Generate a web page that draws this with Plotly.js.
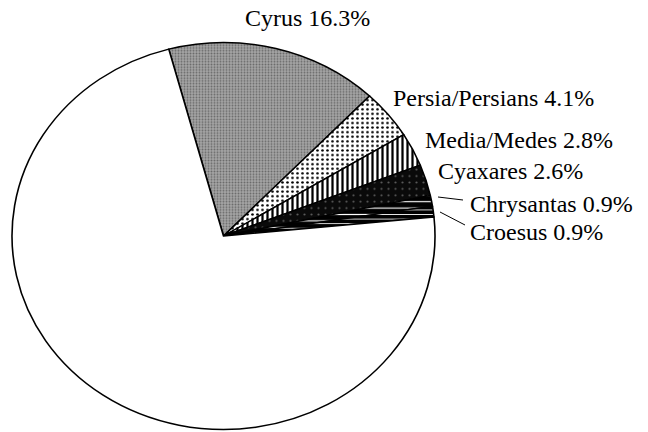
<!DOCTYPE html>
<html>
<head>
<meta charset="utf-8">
<script src="https://cdn.plot.ly/plotly-3.0.1.min.js"></script>
<style>
  html, body { margin: 0; padding: 0; background: #fff; }
  #chart { width: 648px; height: 432px; }
</style>
</head>
<body>
<div id="chart"></div>
<script>
// ---- data ----
const labels = ["Cyrus", "Persia/Persians", "Media/Medes", "Cyaxares", "Chrysantas", "Croesus", "Other"];
const shares = [16.3, 4.1, 2.8, 2.6, 0.9, 0.9, 72.4];
const labelled = [true, true, true, true, true, true, false];

// ---- styles ----
const bgColors = ["#a6a6a6", "#ffffff", "#ffffff", "#0a0a0a", "#000000", "#000000", "#ffffff"];
const fgColors = ["#6a6a6a", "#000000", "#000000", "#5a5a5a", "#ffffff", "#ffffff", "#000000"];
const shapes   = [".", ".", "|", ".", "-", "-", ""];
const sizes    = [3, 5, 5, 7, 7, 5, 8];
const solids   = [0.35, 0.22, 0.45, 0.08, 0.18, 0.18, 0.3];

// label placement (pixels: left edge, vertical centre)
const labelPos = [[244, 18], [392, 98], [424, 140], [437, 171], [469, 204], [469, 232]];
// leader lines for the two thin slices (pixels)
const leaders = [null, null, null, null, [438, 197, 463, 200], [440, 212, 465, 225]];

const W = 648, H = 432;
const px = x => x / W, py = y => 1 - y / H;

const annotations = [];
const shapesL = [];
labels.forEach((lab, i) => {
  if (!labelled[i]) return;
  annotations.push({
    xref: "paper", yref: "paper",
    x: px(labelPos[i][0]), y: py(labelPos[i][1]),
    xanchor: "left", yanchor: "middle",
    text: lab + " " + shares[i].toFixed(1) + "%",
    showarrow: false,
    borderpad: 0,
    font: { family: "Liberation Serif, Times New Roman, serif", size: 24, color: "#000" }
  });
  if (leaders[i]) {
    const l = leaders[i];
    shapesL.push({
      type: "line", xref: "paper", yref: "paper",
      x0: px(l[0]), y0: py(l[1]), x1: px(l[2]), y1: py(l[3]),
      line: { color: "#000", width: 1 }
    });
  }
});

const R = 211.5, CX = 223.5;
const trace = {
  type: "pie",
  labels: labels,
  values: shares,
  sort: false,
  direction: "clockwise",
  rotation: -15,
  textinfo: "none",
  textposition: "none",
  hoverinfo: "label+percent",
  showlegend: false,
  domain: { x: [(CX - R) / W, (CX + R) / W], y: [0, 1] },
  marker: {
    colors: bgColors,
    line: { color: "#000", width: 1.6 },
    pattern: {
      shape: shapes,
      fillmode: "replace",
      bgcolor: bgColors,
      fgcolor: fgColors,
      size: sizes,
      solidity: solids
    }
  }
};

const layout = {
  width: W, height: H,
  margin: { l: 0, r: 0, t: 0, b: 0, pad: 0 },
  paper_bgcolor: "#fff",
  plot_bgcolor: "#fff",
  showlegend: false,
  annotations: annotations,
  shapes: shapesL
};

Plotly.newPlot("chart", [trace], layout, { displayModeBar: false, staticPlot: true }).then(gd => {
  // the reference pie is slightly elliptical: squash vertically about its centre
  const layer = gd.querySelector(".pielayer");
  if (layer) {
    const s = 193.5 / R, cyRender = H / 2, cyTarget = 236;
    layer.setAttribute("transform", "translate(0," + (cyTarget - s * cyRender) + ") scale(1," + s + ")");
  }
});
</script>
</body>
</html>
